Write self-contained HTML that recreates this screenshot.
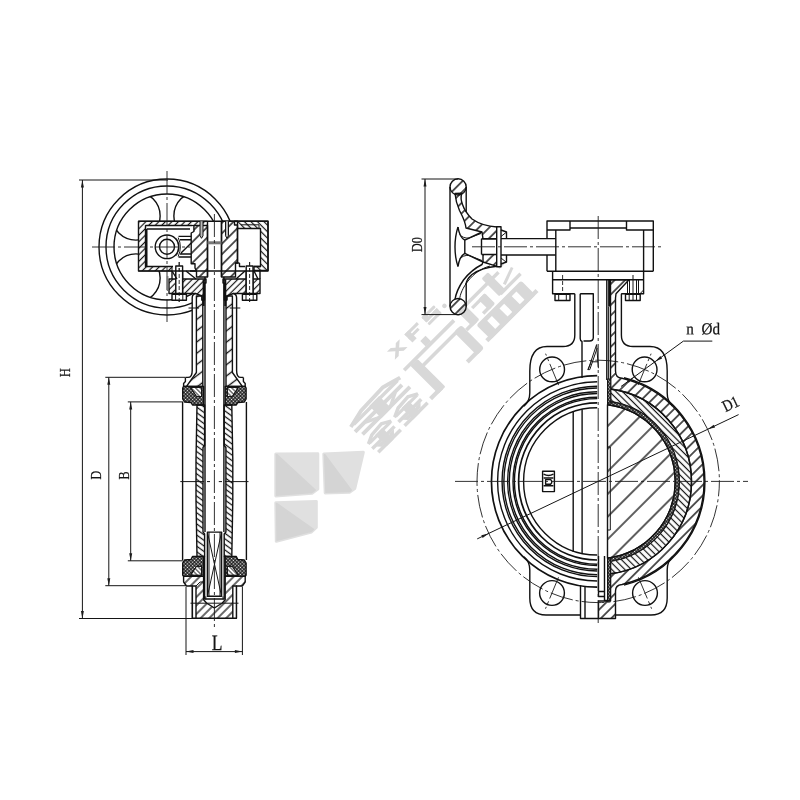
<!DOCTYPE html>
<html><head><meta charset="utf-8"><title>Butterfly valve drawing</title>
<style>
html,body{margin:0;padding:0;background:#fff;}
body{width:800px;height:800px;overflow:hidden;font-family:"Liberation Serif",serif;}
svg{display:block;will-change:transform;}
.k{fill:none;stroke:#111;stroke-width:1.4;stroke-linecap:butt;stroke-linejoin:round;}
.kk{fill:none;stroke:#111;stroke-width:1.7;}
.w{fill:#fff;stroke:#111;stroke-width:1.4;stroke-linejoin:round;}
.wf{fill:#fff;stroke:none;}
.t{fill:none;stroke:#151515;stroke-width:1.0;}
.c{fill:none;stroke:#1c1c1c;stroke-width:0.9;stroke-dasharray:23 3 3 3;}
.d{fill:none;stroke:#1c1c1c;stroke-width:0.9;stroke-dasharray:4 2;}
.f{fill:#1c1c1c;stroke:none;}
text{font-family:"Liberation Serif",serif;fill:#151515;stroke:#151515;stroke-width:0.25;}
</style></head><body>
<svg width="800" height="800" viewBox="0 0 800 800">
<defs>
<pattern id="h3" width="3.2" height="3.2" patternUnits="userSpaceOnUse" patternTransform="rotate(-45)"><line x1="0" y1="1.6" x2="3.2" y2="1.6" stroke="#111" stroke-width="0.9"/></pattern>
<pattern id="h3b" width="3.2" height="3.2" patternUnits="userSpaceOnUse" patternTransform="rotate(45)"><line x1="0" y1="1.6" x2="3.2" y2="1.6" stroke="#111" stroke-width="0.9"/></pattern>
<pattern id="h5" width="4.6" height="4.6" patternUnits="userSpaceOnUse" patternTransform="rotate(-45)"><line x1="0" y1="2.3" x2="4.6" y2="2.3" stroke="#111" stroke-width="1.2"/></pattern>
<pattern id="h5b" width="4.6" height="4.6" patternUnits="userSpaceOnUse" patternTransform="rotate(45)"><line x1="0" y1="2.3" x2="4.6" y2="2.3" stroke="#111" stroke-width="1.2"/></pattern>
<pattern id="h6" width="6" height="6" patternUnits="userSpaceOnUse" patternTransform="rotate(-45)"><line x1="0" y1="3" x2="6" y2="3" stroke="#111" stroke-width="1.25"/></pattern>
<pattern id="h6b" width="6" height="6" patternUnits="userSpaceOnUse" patternTransform="rotate(45)"><line x1="0" y1="3" x2="6" y2="3" stroke="#111" stroke-width="1.25"/></pattern>
<pattern id="hs" width="9" height="9" patternUnits="userSpaceOnUse" patternTransform="rotate(-37)"><line x1="0" y1="4.5" x2="9" y2="4.5" stroke="#111" stroke-width="1.35"/></pattern>
<pattern id="hsb" width="4.5" height="4.5" patternUnits="userSpaceOnUse" patternTransform="rotate(36)"><line x1="0" y1="2.25" x2="4.5" y2="2.25" stroke="#111" stroke-width="1.25"/></pattern>
<pattern id="h7" width="7.4" height="7.4" patternUnits="userSpaceOnUse" patternTransform="rotate(-45)"><line x1="0" y1="3.7" x2="7.4" y2="3.7" stroke="#111" stroke-width="1.4"/></pattern>
<pattern id="h7b" width="7.4" height="7.4" patternUnits="userSpaceOnUse" patternTransform="rotate(45)"><line x1="0" y1="3.7" x2="7.4" y2="3.7" stroke="#111" stroke-width="1.4"/></pattern>
<pattern id="h16" width="16" height="16" patternUnits="userSpaceOnUse" patternTransform="rotate(-45) translate(0,3)"><line x1="0" y1="8" x2="16" y2="8" stroke="#111" stroke-width="1.35"/></pattern>
<pattern id="x2" width="2.5" height="2.5" patternUnits="userSpaceOnUse" patternTransform="rotate(45)"><rect width="2.5" height="2.5" fill="#0c0c0c"/><rect x="0.55" y="0.55" width="1.4" height="1.4" fill="#fff"/></pattern>
</defs>
<g id="wm">
<path d="M275.8,454 L317.8,453.7 L317.8,489 L312,493.2 L275.8,496 Z" fill="#e0e0e0" stroke="#e0e0e0" stroke-width="3" stroke-linejoin="round"/>
<clipPath id="c2"><path d="M275.8,454 L317.8,453.7 L317.8,489 L312,493.2 L275.8,496 Z" stroke="#000" stroke-width="3" stroke-linejoin="round"/></clipPath>
<path d="M276,454.5 L316.5,492 L236,532 L236,454.5 Z" fill="#d4d4d4" stroke="#d4d4d4" stroke-width="2.4" stroke-linejoin="round" clip-path="url(#c2)"/>
<path d="M323.8,454 L363.3,452.3 L354.8,488.5 L349.5,492.2 L325.2,493 Z" fill="#e0e0e0" stroke="#e0e0e0" stroke-width="3" stroke-linejoin="round"/>
<clipPath id="c5"><path d="M323.8,454 L363.3,452.3 L354.8,488.5 L349.5,492.2 L325.2,493 Z" stroke="#000" stroke-width="3" stroke-linejoin="round"/></clipPath>
<path d="M324.5,455 L352,492 L284.5,532 L284.5,455 Z" fill="#d4d4d4" stroke="#d4d4d4" stroke-width="2.4" stroke-linejoin="round" clip-path="url(#c5)"/>
<path d="M275.8,502.8 L316.3,501.4 L316.3,527.5 L311.5,532 L276.3,541.3 Z" fill="#e0e0e0" stroke="#e0e0e0" stroke-width="3" stroke-linejoin="round"/>
<clipPath id="c8"><path d="M275.8,502.8 L316.3,501.4 L316.3,527.5 L311.5,532 L276.3,541.3 Z" stroke="#000" stroke-width="3" stroke-linejoin="round"/></clipPath>
<path d="M276,503.5 L315,531 L236,571 L236,503.5 Z" fill="#d4d4d4" stroke="#d4d4d4" stroke-width="2.4" stroke-linejoin="round" clip-path="url(#c8)"/>
<g fill="#d8d8d8" transform="matrix(0.70711,-0.70711,0.70711,0.70711,0,0)">
<rect x="56.00" y="538.30" width="7.50" height="7.70" rx="0"/>
<rect x="24.00" y="545.70" width="70.50" height="3.70" rx="0"/>
<rect x="31.50" y="549.00" width="10.00" height="39.50" rx="1.5"/>
<rect x="22.50" y="584.30" width="15.50" height="4.20" rx="0"/>
<rect x="41.00" y="555.80" width="51.00" height="3.60" rx="0"/>
<rect x="86.00" y="555.80" width="10.30" height="32.70" rx="3"/>
<rect x="74.50" y="584.30" width="17.50" height="4.20" rx="0"/>
<rect x="107.00" y="566.80" width="63.00" height="20.50" rx="2.5"/>
<rect x="117.70" y="571.30" width="6.60" height="11.50" fill="#fff"/>
<rect x="135.10" y="571.30" width="6.60" height="11.50" fill="#fff"/>
<rect x="152.40" y="571.30" width="6.60" height="11.50" fill="#fff"/>
<rect x="103.30" y="583.00" width="71.00" height="4.30" rx="0"/>
<rect x="103.00" y="543.30" width="57.00" height="3.40" rx="0"/>
<rect x="103.00" y="543.30" width="10.00" height="21.70" rx="1.5"/>
<rect x="96.50" y="561.30" width="13.50" height="3.70" rx="0"/>
<rect x="116.00" y="550.00" width="19.00" height="3.40" rx="0"/>
<rect x="126.50" y="550.00" width="9.00" height="15.00" rx="2"/>
<rect x="120.00" y="561.50" width="10.00" height="3.50" rx="0"/>
<rect x="143.50" y="537.50" width="9.00" height="25.00" rx="1.5"/>
<path d="M155.00,556.20 L172.50,550.00 L173.50,552.60 L156.00,559.20 Z"/>
<rect x="146.00" y="560.00" width="28.50" height="3.40" rx="0"/>
<rect x="163.00" y="538.00" width="6.50" height="5.50" rx="0"/>
<path d="M-54.30,548.19 L-35.24,543.74 L-2.76,542.60 L16.30,548.19 L15.50,551.89 L-3.56,546.50 L-34.44,547.64 L-53.50,551.89 Z"/>
<rect x="-50.06" y="548.39" width="62.13" height="3.50" rx="0"/>
<rect x="-54.30" y="554.46" width="66.36" height="3.90" rx="0"/>
<rect x="-26.00" y="548.19" width="14.00" height="17.21" rx="0"/>
<path d="M-41.53,558.06 L-34.12,558.06 L-26.36,561.80 L-33.77,561.80 Z"/>
<path d="M3.53,558.06 L-3.88,558.06 L-11.64,561.80 L-4.23,561.80 Z"/>
<rect x="-50.77" y="561.50" width="67.07" height="3.90" rx="0"/>
<path d="M-54.00,572.84 L-44.95,568.67 L-29.55,567.60 L-20.50,572.84 L-21.30,576.17 L-30.35,571.10 L-44.16,572.17 L-53.20,576.17 Z"/>
<rect x="-51.99" y="573.04" width="29.48" height="3.12" rx="0"/>
<rect x="-54.00" y="578.73" width="31.49" height="3.50" rx="0"/>
<rect x="-42.25" y="572.84" width="10.00" height="16.16" rx="0"/>
<path d="M-49.62,581.93 L-42.97,581.93 L-39.29,585.80 L-45.94,585.80 Z"/>
<path d="M-24.88,581.93 L-31.53,581.93 L-35.22,585.80 L-28.57,585.80 Z"/>
<rect x="-52.33" y="585.50" width="31.83" height="3.50" rx="0"/>
<path d="M-16.60,572.49 L-7.37,568.28 L8.37,567.20 L17.60,572.49 L16.80,575.82 L7.57,570.70 L-6.57,571.78 L-15.80,575.82 Z"/>
<rect x="-14.55" y="572.69" width="30.10" height="3.12" rx="0"/>
<rect x="-16.60" y="578.43" width="32.15" height="3.50" rx="0"/>
<rect x="-4.50" y="572.49" width="10.00" height="16.31" rx="0"/>
<path d="M-12.02,581.63 L-5.37,581.63 L-1.61,585.60 L-8.26,585.60 Z"/>
<path d="M13.02,581.63 L6.37,581.63 L2.61,585.60 L9.26,585.60 Z"/>
<rect x="-14.89" y="585.30" width="32.49" height="3.50" rx="0"/>
<path d="M24.80,522.40 L30.20,522.40 L42.80,533.60 L37.40,533.60 Z"/>
<path d="M24.80,533.60 L30.20,533.60 L42.80,522.40 L37.40,522.40 Z"/>
<rect x="49.50" y="522.40" width="6.00" height="11.40" rx="0"/>
<rect x="49.50" y="522.40" width="17.50" height="3.10" rx="0"/>
<rect x="49.50" y="527.00" width="14.00" height="3.00" rx="0"/>
<rect x="73.50" y="522.40" width="17.50" height="3.00" rx="1"/>
<rect x="73.50" y="526.60" width="17.50" height="3.00" rx="0"/>
<rect x="73.50" y="530.80" width="17.50" height="3.00" rx="1"/>
<rect x="73.50" y="522.40" width="5.80" height="7.20" rx="1"/>
<rect x="85.20" y="526.60" width="5.80" height="7.20" rx="1"/>
<circle cx="98" cy="530.5" r="2.3"/>
</g>
</g>
<g id="left">
<line class="t" x1="79" y1="180" x2="168" y2="180" />
<line class="t" x1="79" y1="618.5" x2="192" y2="618.5" />
<line class="t" x1="82.4" y1="180" x2="82.4" y2="618.5" />
<path class="f" d="M82.40,180.00 L83.90,187.50 L80.90,187.50 Z"/>
<path class="f" d="M82.40,618.50 L80.90,611.00 L83.90,611.00 Z"/>
<line class="t" x1="105.3" y1="377.3" x2="185" y2="377.3" />
<line class="t" x1="105.3" y1="585.7" x2="186" y2="585.7" />
<line class="t" x1="108.8" y1="377.3" x2="108.8" y2="585.7" />
<path class="f" d="M108.80,377.30 L110.30,384.80 L107.30,384.80 Z"/>
<path class="f" d="M108.80,585.70 L107.30,578.20 L110.30,578.20 Z"/>
<line class="t" x1="127.8" y1="401.9" x2="183" y2="401.9" />
<line class="t" x1="127.8" y1="560.8" x2="183" y2="560.8" />
<line class="t" x1="130.7" y1="401.9" x2="130.7" y2="560.8" />
<path class="f" d="M130.70,401.90 L132.20,409.40 L129.20,409.40 Z"/>
<path class="f" d="M130.70,560.80 L129.20,553.30 L132.20,553.30 Z"/>
<line class="t" x1="186" y1="587" x2="186" y2="655" />
<line class="t" x1="242.4" y1="587" x2="242.4" y2="655" />
<line class="t" x1="186" y1="651.6" x2="242.4" y2="651.6" />
<path class="f" d="M186.00,651.60 L193.50,650.10 L193.50,653.10 Z"/>
<path class="f" d="M242.40,651.60 L234.90,653.10 L234.90,650.10 Z"/>
<text x="0" y="0" font-size="15.5" text-anchor="middle" transform="translate(69.8,372.6) rotate(-90) scale(0.78,1)" >H</text>
<text x="0" y="0" font-size="15.5" text-anchor="middle" transform="translate(100.7,475.2) rotate(-90) scale(0.78,1)" >D</text>
<text x="0" y="0" font-size="15.5" text-anchor="middle" transform="translate(128.8,475.5) rotate(-90) scale(0.78,1)" >B</text>
<text x="0" y="0" font-size="22" text-anchor="middle" transform="translate(217,650) rotate(0.03) scale(0.8,1)" >L</text>
<clipPath id="hwclip"><path d="M80,160 H300 V221.2 H138.5 V271 H169 V293.5 H192 V330 H80 Z"/></clipPath>
<g clip-path="url(#hwclip)">
<circle class="k" cx="167" cy="247" r="68" />
<circle class="k" cx="167" cy="247" r="61" />
<circle class="k" cx="167" cy="247" r="53" />
<clipPath id="rim"><circle cx="167" cy="247" r="53"/></clipPath>
<g clip-path="url(#rim)">
<circle class="k" cx="135.94" cy="215.94" r="24.2" />
<circle class="k" cx="198.06" cy="215.94" r="24.2" />
<circle class="k" cx="135.94" cy="278.06" r="24.2" />
<circle class="k" cx="198.06" cy="278.06" r="24.2" />
</g></g>
<rect class="w" x="138.5" y="221.2" width="129.5" height="49.8" />
<path class="t" d="M138.5,221.2 L207.5,221.2 L207.5,225.5 L145.5,225.5 L145.5,266.5 L172,266.5 L172,271 L138.5,271 Z" style="fill:url(#h5)"/>
<path class="k" d="M145.5,225.5 H192.5 M146.8,229 H190 M145.5,225.5 V266.5 H173 M146.8,229 V266.5" />
<circle class="k" cx="167" cy="246.8" r="11.8" />
<circle class="k" cx="167" cy="246.8" r="7.5" />
<path class="t" d="M176.5,238.5 Q180.5,246.8 176.5,255.5 M178.2,237.5 Q182.5,246.8 178.2,256.5" />
<path class="k" d="M178.5,236.4 H191.2 M180,239.8 H191.2 M180,254 H191.2 M178.5,257 H191.2 M181,253 L191.2,243" />
<path class="k" d="M193.9,225.5 L207.5,225.5 L207.5,277 L196.5,277 L196.5,271 L195,268 L195,263.8 L191.2,263.8 L191.2,233 L193.9,231.5 Z" style="fill:url(#h7)"/>
<path class="k" d="M221.5,221.2 L237.5,221.2 L237.5,263 L235.5,263 L235.5,277 L221.5,277 Z" style="fill:url(#h7)"/>
<path class="k" d="M234.5,221.2 L268,221.2 L268,270.5 L254,270.5 L254,266.5 L260.5,266.5 L260.5,228.5 L237.5,228.5 L237.5,225 L234.5,225 Z" style="fill:url(#h5b)"/>
<path class="k" d="M237.5,228.5 V263 M239.5,263 V266.5 H245 M254,266.5 H260.5 M235.5,263 H239.5" />
<path class="t" d="M241,224.8 H259 V228.5" />
<path class="k" d="M207.5,221.2 V277 M221.5,221.2 V277" />
<rect class="" x="207.5" y="241.3" width="14" height="3" style="fill:#777" stroke="none"/>
<path class="t" d="M200.0,221.2 V235.8 L201.5,238.3 L203.0,235.8 V221.2" style="fill:#bbb"/>
<path class="t" d="M225.5,221.2 V235.8 L227,238.3 L228.5,235.8 V221.2" style="fill:#bbb"/>
<line class="c" x1="92" y1="247" x2="190" y2="247" stroke-dasharray="30 3 3 3"/>
<line class="c" x1="167" y1="171" x2="167" y2="322" stroke-dasharray="30 3 3 3 18 3 3 3"/>
<rect class="w" x="175.79999999999998" y="266" width="6.8" height="27.5" />
<line class="d" x1="179.2" y1="262" x2="179.2" y2="302" />
<rect class="w" x="172.0" y="294.3" width="14.4" height="6" />
<path class="t" d="M175.6,294.3 V300.3 M182.79999999999998,294.3 V300.3" />
<rect class="w" x="246.2" y="266" width="6.8" height="27.5" />
<line class="d" x1="249.6" y1="262" x2="249.6" y2="302" />
<rect class="w" x="242.4" y="294.3" width="14.4" height="6" />
<path class="t" d="M246.0,294.3 V300.3 M253.2,294.3 V300.3" />
<path class="k" d="M169,279 L206,279 L206,283 L204.5,283 L204.5,300 L202,300 L202,296 L195.5,293.5 L169,293.5 Z" style="fill:url(#h5)"/>
<path class="k" d="M260,279 L223,279 L223,283 L224.3,283 L224.3,300 L226.8,300 L226.8,296 L233.3,293.5 L260,293.5 Z" style="fill:url(#h5)"/>
<rect class="w" x="175.79999999999998" y="271" width="6.8" height="22.5" />
<line class="d" x1="179.2" y1="262" x2="179.2" y2="302" />
<rect class="w" x="246.2" y="271" width="6.8" height="22.5" />
<line class="d" x1="249.6" y1="262" x2="249.6" y2="302" />
<path class="k" d="M172,271 L177,279 M186,271 L196,279 M196.5,271 H190" />
<path class="k" d="M172,271 V279" />
<line class="" x1="167.6" y1="276" x2="167.6" y2="291" stroke="#777" stroke-width="1.6"/>
<path class="k" d="M245,271 L236,279 M254,271 L258,279 M260,279 V271" />
<path class="k" d="M195.5,293.5 Q192.2,294 192.2,298 V370.4 Q192.2,377.4 188,377.4 H185.4" />
<path class="k" d="M233.3,293.5 Q236.6,294 236.6,298 V370.4 Q236.6,377.4 240.8,377.4 H243.4" />
<path class="k" d="M196.4,296 L202,296 L202,300 L202.8,300 L202.8,386.4 L186.5,386.4 L196.4,372.5 L196.4,300 Z" style="fill:url(#hs)"/>
<path class="k" d="M232.4,296 L226.8,296 L226.8,300 L226,300 L226,386.4 L242.3,386.4 L232.4,372.5 L232.4,300 Z" style="fill:url(#hs)"/>
<line class="" x1="203.6" y1="279.5" x2="203.6" y2="306" stroke="#111" stroke-width="2"/>
<line class="" x1="225.3" y1="279.5" x2="225.3" y2="306" stroke="#111" stroke-width="2"/>
<path class="k" d="M205,277 V532 M223.9,277 V532" />
<line class="t" x1="188.5" y1="308" x2="199" y2="308" />
<line class="t" x1="229.8" y1="308" x2="240.3" y2="308" />
<path class="k" d="M185.4,377.4 L185.4,381.6 L183.6,383.5 L183.6,386.4 L186.5,386.4" />
<path class="k" d="M243.4,377.4 L243.4,381.6 L245.2,383.5 L245.2,386.4 L242.3,386.4" />
<path class="k" d="M183.6,386.4 L203.6,386.4 L203.6,405 L192.5,405 L191,402.5 L184.5,402 L182.7,399 L182.7,388 Z" style="fill:url(#x2)"/>
<path class="k" d="M245.2,386.4 L225.2,386.4 L225.2,405 L236.3,405 L237.8,402.5 L244.3,402 L246.1,399 L246.1,388 Z" style="fill:url(#x2)"/>
<path class="t" d="M190.5,387.5 L201.5,387.5 L201.5,396.5 L196.5,396.5 Z" style="fill:#fff"/>
<path class="t" d="M190.5,387.5 L201.5,387.5 L201.5,396.5 L196.5,396.5 Z" style="fill:url(#h3b)"/>
<path class="t" d="M238.3,387.5 L227.3,387.5 L227.3,396.5 L232.3,396.5 Z" style="fill:#fff"/>
<path class="t" d="M238.3,387.5 L227.3,387.5 L227.3,396.5 L232.3,396.5 Z" style="fill:url(#h3b)"/>
<line class="k" x1="182.6" y1="402" x2="182.6" y2="560" />
<line class="k" x1="246.4" y1="402" x2="246.4" y2="560" />
<path class="k" d="M197,405 L204.6,405 L204.6,445.5 L203,447.5 L203,532 L204.6,534 L204.6,556.5 L197,556.5 L196,500 L196,460 Z" style="fill:url(#hsb)"/>
<path class="k" d="M231.8,405 L224.2,405 L224.2,445.5 L225.9,447.5 L225.9,532 L224.2,534 L224.2,556.5 L231.8,556.5 L232.8,500 L232.8,460 Z" style="fill:url(#hsb)"/>
<path class="t" d="M180.3,481.6 H204 M207,481.6 H210 M218.8,481.6 H222 M225,481.6 H248.5" />
<rect class="w" x="207.4" y="532.1" width="14.2" height="64.2" />
<path class="t" d="M207.4,532.1 L221.6,596.3 M221.6,532.1 L207.4,596.3" />
<path class="t" d="M209,532.1 V596.3 M220,532.1 V596.3" />
<path class="k" d="M183.6,576.4 L203.6,576.4 L203.6,556.5 L192.5,556.5 L191,559.5 L184.5,560 L182.7,563 L182.7,575 Z" style="fill:url(#x2)"/>
<path class="k" d="M245.2,576.4 L225.2,576.4 L225.2,556.5 L236.3,556.5 L237.8,559.5 L244.3,560 L246.1,563 L246.1,575 Z" style="fill:url(#x2)"/>
<path class="t" d="M190.5,575.3 L201.5,575.3 L201.5,566.3 L196.5,566.3 Z" style="fill:#fff"/>
<path class="t" d="M190.5,575.3 L201.5,575.3 L201.5,566.3 L196.5,566.3 Z" style="fill:url(#h3b)"/>
<path class="t" d="M238.3,575.3 L227.3,575.3 L227.3,566.3 L232.3,566.3 Z" style="fill:#fff"/>
<path class="t" d="M238.3,575.3 L227.3,575.3 L227.3,566.3 L232.3,566.3 Z" style="fill:url(#h3b)"/>
<path class="k" d="M183.6,576.4 L203.6,576.4 L203.6,599.8 L206.5,603 L214.4,608 L222.3,603 L225.2,599.8 L225.2,576.4 L245.2,576.4 L245.2,582 L242.3,586 L236.4,586 L236.4,618.3 L192.4,618.3 L192.4,586 L186.5,586 L183.6,582 Z" style="fill:url(#h6)"/>
<path class="w" d="M192.4,586 L196,586 L196,618.3 L192.4,618.3 Z" />
<path class="w" d="M236.4,586 L232.8,586 L232.8,618.3 L236.4,618.3 Z" />
<path class="t" d="M196,586 L200,582 L203.6,582" />
<line class="t" x1="190.5" y1="603.2" x2="238.5" y2="603.2" />
<path class="k" d="M204.6,556.5 V599 H224.2 V556.5" />
<path class="t" d="M205.8,596.3 V599.5 M223,596.3 V599.5" />
<line class="c" x1="214.4" y1="214" x2="214.4" y2="628" />
</g>
<g id="right">
<line class="t" x1="421.5" y1="179" x2="458" y2="179" />
<line class="t" x1="421.5" y1="314.6" x2="460" y2="314.6" />
<line class="t" x1="425" y1="179" x2="425" y2="314.6" />
<path class="f" d="M425.00,179.00 L426.50,186.50 L423.50,186.50 Z"/>
<path class="f" d="M425.00,314.60 L423.50,307.10 L426.50,307.10 Z"/>
<text x="0" y="0" font-size="15.5" text-anchor="middle" transform="translate(421.8,244.5) rotate(-90) scale(0.78,1)" >D0</text>
<path class="k" d="M450,187 V306.5 M466.2,187 V212 M466.2,283 V306.5" />
<circle class="k" cx="458.1" cy="186.9" r="8.1" style="fill:url(#h7)"/>
<circle class="k" cx="458.1" cy="306.6" r="8.1" style="fill:url(#h7)"/>
<path class="k" d="M455,193.5 C455.5,199 457,205 459.5,210.5 C462,215.5 465,220 466,228 L482,232 L483,238.8 L497,238.8 L497,227 C488,226.5 480,224.5 472,219 C468,215 464,209 462.5,204.5 C461,200.5 460.5,197 461.8,193.2 Z" style="fill:url(#h7)"/>
<path class="k" d="M483,254.5 L483,262 L497,266.3 L497,254.5" style="fill:url(#h7)"/>
<path class="k" d="M497,266.3 C488,267 480,269 472,274.5 C468,278 466.2,281 466.2,284" />
<path class="k" d="M483,262 L482,264.5 C476,267.5 469,273 463.5,280 C459,286.5 456,293 455,299.5" />
<path class="t" d="M490,266 C481,268.5 474,273.5 468,281 C463,287.5 460,294 459.5,300" />
<path class="k" d="M458,227 C454,239 454,255 458,266.5" />
<path class="k" d="M458,227 C459,234 461,238 464.8,240.2 L482,232" />
<path class="k" d="M458,266.5 C459,259.5 461,255.5 464.8,253.3 L483,262" />
<path class="k" d="M464.8,240.2 V253.3" />
<path class="t" d="M459.5,234.5 C462,237 465,238.5 469,238 L481,233.5 M459.5,259 C462,256.5 465,255 469,255.5 L482,260.5" />
<path class="k" d="M481.5,238.8 V254.5 M481.5,238.8 H497 M481.5,254.5 H497" />
<rect class="w" x="496.7" y="226.8" width="4.3" height="40" />
<path class="k" d="M501,230 L506.5,232 V238.6 M501,264 L506.5,262 V255" />
<path class="t" d="M501,236.5 L506,232.5 M501,258 L506,262" />
<path class="k" d="M501,238.6 H555.8 M501,255 H555.8" />
<line class="c" x1="472" y1="246.8" x2="664" y2="246.8" />
<path class="k" d="M547,271.2 V255 M547,238.6 V221 H653.3 V271.2" />
<path class="k" d="M547,230 H570 V221 M653.3,230 H626.5 V221 M570,228 H626.5" />
<path class="k" d="M555.8,230 V271.2 M643.6,230 V271.2" />
<line class="k" x1="547" y1="271.2" x2="653.3" y2="271.2" />
<path class="k" d="M552.6,271.2 V293.7 H574.8 M643.6,271.2 V293.7 H621.2 M552.6,279.7 H643.6" />
<rect class="w" x="555" y="294.2" width="15" height="6.3" />
<path class="t" d="M558.7,294.2 V300.5 M566.3,294.2 V300.5" />
<rect class="w" x="625.5" y="294.2" width="14.700000000000045" height="6.3" />
<path class="t" d="M629.2,294.2 V300.5 M636.5,294.2 V300.5" />
<line class="d" x1="562.6" y1="275" x2="562.6" y2="294" />
<path class="t" d="M629.5,279.7 V293.7 M633,275 V300 M636.5,279.7 V293.7 M627.5,279.7 V293.7 M638.5,279.7 V293.7" />
<path class="t" d="M640,293.7 L643.6,290" />
<path class="k" d="M574.8,293.7 V335 Q574.8,346.5 563,346.5 H547" />
<path class="k" d="M621.4,293.7 V335 Q621.4,346.5 633,346.5 H650" />
<path class="k" d="M580.2,293.7 H593.3 V337.5 Q593.3,341 589.5,341 H583.5 M580.2,293.7 V338.5 Q580.2,341 582,341.5 V378" />
<line class="k" x1="606.8" y1="279.7" x2="606.8" y2="380" />
<line class="" x1="609.2" y1="279.7" x2="609.2" y2="306.5" stroke="#111" stroke-width="2.2"/>
<line class="t" x1="608.6" y1="306.5" x2="608.6" y2="380" />
<path class="k" d="M547,346.5 C536,346.5 529.8,354 529.8,371 V393 Q529.8,401 523.9,406.1" />
<path class="k" d="M650,346.5 C661,346.5 667.2,354 667.2,371 V393 Q667.2,401 672.5,406.1" />
<path class="k" d="M523.9,556.7 Q529.8,561.5 529.8,570 V598 Q529.8,615 546,615 H580.5" />
<path class="k" d="M672.5,556.7 Q667.2,561.5 667.2,570 V598 Q667.2,615 651,615 H615.5" />
<circle class="k" cx="552.1" cy="369.4" r="12.4" />
<line class="c" x1="558.6" y1="385.1" x2="545.6" y2="353.7" stroke-dasharray="9 2 2 2"/>
<circle class="k" cx="644.6" cy="369.4" r="12.4" />
<line class="c" x1="638.1" y1="385.1" x2="651.1" y2="353.7" stroke-dasharray="9 2 2 2"/>
<circle class="k" cx="552" cy="593" r="12.4" />
<line class="c" x1="558.5" y1="577.3" x2="545.5" y2="608.7" stroke-dasharray="9 2 2 2"/>
<circle class="k" cx="645" cy="593" r="12.4" />
<line class="c" x1="638.4" y1="577.3" x2="651.6" y2="608.7" stroke-dasharray="9 2 2 2"/>
<circle class="c" cx="598.2" cy="481.4" r="121.2" stroke-dasharray="22 3 3 3" stroke-dashoffset="8"/>
<path class="kk" d="M597.2,375.59999999999997 A105.8,105.8 0 0 0 597.2,587.1999999999999" />
<path class="k" d="M597.2,381.79999999999995 A99.6,99.6 0 0 0 597.2,581.0" />
<path class="k" d="M597.2,386.2 A95.2,95.2 0 0 0 597.2,576.6" />
<path class="k" d="M597.2,388.0 A93.4,93.4 0 0 0 597.2,574.8" />
<path class="k" d="M597.2,391.79999999999995 A89.6,89.6 0 0 0 597.2,571.0" />
<path class="k" d="M597.2,393.5 A87.9,87.9 0 0 0 597.2,569.3" />
<path class="k" d="M597.2,397.2 A84.2,84.2 0 0 0 597.2,565.6" />
<path class="k" d="M597.2,398.59999999999997 A82.8,82.8 0 0 0 597.2,564.1999999999999" />
<path class="kk" d="M597.2,402.79999999999995 A78.6,78.6 0 0 0 597.2,560.0" />
<path class="k" d="M597.2,407.79999999999995 A73.6,73.6 0 0 0 597.2,555.0" />
<path class="k" d="M573.2,410.9 V551.9 M582.1,409.2 V553.6" />
<rect class="w" x="542.6" y="471.2" width="11.8" height="20.4" />
<path class="k" d="M543.6,474.2 Q548.5,476.8 553.4,474.2 M543.6,478 H553.4 M543.6,485.8 H553.4" />
<path class="k" d="M545.6,479.6 H550.6 Q553,481.9 550.6,484.2 H545.6 Z" stroke-width="1.6"/>
<path class="k" d="M610.5,279.7 H629 L616,293.7 L615.5,298 V371 Q615.5,378 622.0,378.3 A105.8,105.8 0 0 1 622.0,584.5 Q615.5,585 615.5,591 V618.5 H598.5 V601 H610.5 V573.8 A93.2,93.2 0 0 0 610.5,389.0 Z" style="fill:url(#h7)"/>
<path class="k" d="M624.0,377.7 A106.89999999999999,106.89999999999999 0 0 1 624.0,585.1" />
<path class="k" d="M610.5,389.0 A93.2,93.2 0 0 1 610.5,573.8 V561.3 A80.8,80.8 0 0 0 610.5,401.5 Z" style="fill:url(#h5b)"/>
<path class="t" d="M607.5,401.1 A80.8,80.8 0 0 1 607.5,561.7 V558.1 A77.3,77.3 0 0 0 607.5,404.7 Z" style="fill:url(#x2)"/>
<rect class="t" x="607.6" y="379" width="3.2" height="24" style="fill:url(#x2)"/>
<rect class="t" x="607.8" y="558" width="2.8" height="42.5" style="fill:url(#x2)"/>
<path class="k" d="M607.5,404.7 A77.3,77.3 0 0 1 607.5,558.1 Z" style="fill:url(#h16)"/>
<path class="t" d="M607.5,380 V601 M610.3,447 V530 M607.5,447 H610.3 M607.5,530 H610.3" />
<path class="k" d="M580.5,585 V618.5 H598.5 M585,586 V618.5" />
<path class="k" d="M598.5,556 V596.5 H604.5 V556 M598.5,591.5 H604.5 M604.5,596.5 V600.5 H607.6" />
<line class="c" x1="598.2" y1="216" x2="598.2" y2="626" />
<line class="c" x1="455" y1="481.4" x2="748" y2="481.4" />
<line class="t" x1="477.2" y1="538.9" x2="738.6" y2="414.6" />
<path class="f" d="M488.74,533.44 L482.61,538.02 L481.33,535.31 Z"/>
<path class="f" d="M707.66,429.36 L713.79,424.78 L715.07,427.49 Z"/>
<text x="0" y="0" font-size="16.5" text-anchor="middle" transform="translate(733,408.8) rotate(-25.4) scale(0.82,1)" >D1</text>
<path class="t" d="M712.3,341.1 H683.4 L621,386.5" />
<path class="f" d="M655.20,361.60 L660.39,355.98 L662.15,358.41 Z"/>
<path class="f" d="M634.00,377.20 L628.81,382.82 L627.05,380.39 Z"/>
<text x="0" y="0" font-size="16.5" text-anchor="middle" transform="translate(703.2,334.2) rotate(0.03) scale(0.92,1)" >n &#160;&#216;d</text>
<path class="t" d="M588.2,369.6 L596.6,344.6 L598.4,368.2 M589.8,369.6 L597.2,348 M590.5,361.8 H598 M590.8,363.2 L587.8,369.6 H589.8" stroke-width="0.95"/>
</g>
</svg>
</body></html>
